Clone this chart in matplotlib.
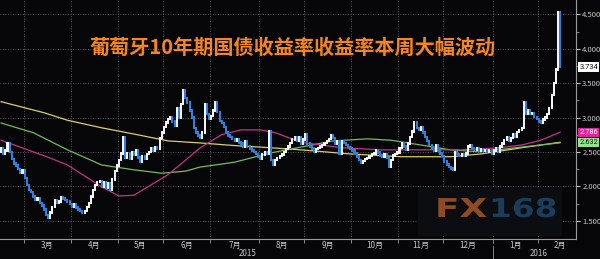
import numpy as np
import pandas as pd
import matplotlib
matplotlib.use('Agg')
import matplotlib.pyplot as plt
import matplotlib.transforms as mtransforms
from matplotlib.patches import Rectangle, PathPatch
from matplotlib.textpath import TextPath
from matplotlib.font_manager import FontProperties

plt.rcParams['font.family'] = ['Noto Sans CJK SC', 'DejaVu Sans']

# daily closing yields (%), one per trading day from 2015-02-13
closes = [
    2.55, 2.48, 2.52, 2.62, 2.50, 2.40, 2.33, 2.30, 2.25, 2.20,
    2.24, 2.12, 2.02, 1.95, 1.92, 1.85, 1.80, 1.83, 1.76, 1.72,
    1.66, 1.58, 1.54, 1.62, 1.70, 1.80, 1.76, 1.78, 1.84, 1.82,
    1.80, 1.78, 1.74, 1.70, 1.74, 1.69, 1.66, 1.64, 1.62, 1.64,
    1.70, 1.76, 1.85, 1.95, 2.02, 2.06, 2.08, 2.00, 2.06, 1.98,
    2.05, 1.95, 2.10, 2.22, 2.30, 2.38, 2.48, 2.72, 2.42, 2.48,
    2.40, 2.50, 2.46, 2.52, 2.42, 2.36, 2.44, 2.40, 2.47, 2.50,
    2.55, 2.52, 2.57, 2.55, 2.70, 2.78, 2.86, 2.93, 2.98, 3.00,
    2.94, 2.88, 3.13, 3.00, 3.20, 3.40, 3.28, 3.22, 3.10, 3.00,
    2.85, 2.78, 2.74, 2.70, 2.78, 3.20, 3.05, 2.98, 3.02, 3.10,
    3.22, 3.08, 2.95, 2.92, 2.86, 2.78, 2.74, 2.72, 2.69, 2.66,
    2.68, 2.64, 2.62, 2.58, 2.66, 2.58, 2.55, 2.52, 2.50, 2.47,
    2.43, 2.40, 2.46, 2.50, 2.48, 2.80, 2.38, 2.32, 2.38, 2.41,
    2.44, 2.46, 2.50, 2.54, 2.58, 2.63, 2.68, 2.71, 2.66, 2.72,
    2.62, 2.68, 2.75, 2.62, 2.58, 2.55, 2.50, 2.54, 2.56, 2.58,
    2.60, 2.63, 2.66, 2.69, 2.74, 2.70, 2.62, 2.66, 2.48, 2.66,
    2.63, 2.60, 2.57, 2.55, 2.52, 2.48, 2.43, 2.38, 2.34, 2.37,
    2.40, 2.41, 2.44, 2.47, 2.48, 2.53, 2.49, 2.45, 2.43, 2.46,
    2.41, 2.28, 2.38, 2.45, 2.47, 2.49, 2.56, 2.62, 2.58, 2.53,
    2.62, 2.72, 2.80, 2.93, 2.85, 2.82, 2.86, 2.78, 2.72, 2.66,
    2.60, 2.55, 2.52, 2.60, 2.52, 2.48, 2.44, 2.36, 2.32, 2.28,
    2.26, 2.24, 2.50, 2.47, 2.45, 2.47, 2.45, 2.48, 2.58, 2.60,
    2.55, 2.53, 2.55, 2.52, 2.54, 2.51, 2.53, 2.50, 2.52, 2.48,
    2.52, 2.55, 2.50, 2.58, 2.62, 2.67, 2.72, 2.66, 2.70, 2.75,
    2.72, 2.79, 2.82, 2.85, 3.22, 3.06, 3.10, 3.05, 3.06, 3.01,
    2.98, 2.94, 2.92, 2.97, 3.00, 3.05, 3.14, 3.33, 3.50, 3.70,
    4.53, 3.734,
]
first_open = 2.50

# moving averages, sampled at trading-day positions
yellow_idx = [0, 20, 31, 47, 62, 78, 93, 110, 126, 140, 163, 187, 210, 224, 243, 261]
yellow_val = [3.23, 3.07, 2.96, 2.85, 2.76, 2.66, 2.63, 2.59, 2.56, 2.53, 2.47, 2.43, 2.43, 2.47, 2.56, 2.64]

green_idx = [0, 15, 31, 47, 62, 75, 86, 93, 109, 125, 140, 155, 171, 182, 196, 210, 224, 243, 261]
green_val = [2.92, 2.78, 2.53, 2.31, 2.24, 2.19, 2.22, 2.28, 2.35, 2.48, 2.57, 2.66, 2.69, 2.67, 2.60, 2.53, 2.50, 2.57, 2.632]

magenta_idx = [0, 23, 31, 47, 55, 62, 78, 93, 103, 112, 121, 128, 140, 159, 177, 201, 215, 233, 243, 252, 261]
magenta_val = [2.67, 2.41, 2.31, 1.99, 1.86, 1.87, 2.17, 2.56, 2.75, 2.82, 2.82, 2.78, 2.64, 2.56, 2.53, 2.53, 2.53, 2.56, 2.60, 2.67, 2.786]

last_labels = [('3.734', 3.734, 'white', 'black'),
               ('2.786', 2.786, '#e0259b', 'white'),
               ('2.632', 2.632, '#8fe68a', '#102010')]

title = '葡萄牙10年期国债收益率收益率本周大幅波动'
month_names = ['3月', '4月', '5月', '6月', '7月', '8月', '9月', '10月', '11月', '12月', '1月', '2月']

bg = '#060608'
W, H = 600, 259
fig = plt.figure(figsize=(W / 100, H / 100), dpi=100, facecolor=bg)
ax = fig.add_axes([0, 1 - 239 / H, 576 / W, 239 / H], facecolor=bg)

closes = np.array(closes)
n = len(closes)
idx = np.arange(n)
opens = np.r_[first_open, closes[:-1]]
pad = 0.018
lo = np.minimum(opens, closes) - pad
hi = np.maximum(opens, closes) + pad
colors = np.where(closes >= opens, '#f4f4f4', '#2f80dc')

# dates for gridlines / labels
all_days = pd.bdate_range('2015-02-13', '2016-02-29')
months = pd.period_range('2015-03', '2016-03', freq='M')
starts = [int(np.searchsorted(all_days, m.start_time)) for m in months[:-1]]
starts.append(len(all_days))

for s in starts[:-1]:
    ax.axvline(s - 0.5, color='#6a6a6a', lw=0.6, ls=(0, (1, 2)), zorder=1)
for v in np.arange(1.5, 4.51, 0.5):
    ax.axhline(v, color='#6a6a6a', lw=0.6, ls=(0, (1, 2)), zorder=1)

ax.plot(yellow_idx, yellow_val, color='#d8cf6a', lw=0.9, zorder=2)
ax.plot(green_idx, green_val, color='#72bc5c', lw=0.9, zorder=2)
ax.plot(magenta_idx, magenta_val, color='#c4358a', lw=0.9, zorder=2)

ax.bar(idx, hi - lo, bottom=lo, width=0.95, color=colors, zorder=3, linewidth=0)

ax.set_xlim(-0.5, -0.5 + 576 / 2.142)
ax.set_ylim(1.234, 4.708)

for side in ['top', 'left']:
    ax.spines[side].set_visible(False)
ax.spines['right'].set_color('#9a9a9a')
ax.spines['bottom'].set_color('#9a9a9a')
ax.spines['right'].set_linewidth(0.8)
ax.spines['bottom'].set_linewidth(0.8)

ax.yaxis.tick_right()
ax.set_yticks(np.arange(1.5, 4.51, 0.5))
ax.set_yticklabels([f'{v:.3f}' for v in np.arange(1.5, 4.51, 0.5)])
ax.set_yticks(np.arange(1.75, 4.5, 0.5), minor=True)
ax.tick_params(axis='y', which='major', colors='#c8c8c8', labelsize=5.5, length=3, width=0.8, pad=1.5)
ax.tick_params(axis='y', which='minor', colors='#9a9a9a', length=2, width=0.6)

ax.set_xticks([s - 0.5 for s in starts[:-1]])
ax.set_xticklabels([])
ax.tick_params(axis='x', colors='#9a9a9a', length=3, width=0.6)

trans = mtransforms.blended_transform_factory(ax.transData, ax.transAxes)
for k, name in enumerate(month_names):
    c = (starts[k] + starts[k + 1]) / 2 - 0.5
    ax.text(c, -0.026, name, transform=trans, ha='center', va='center',
            fontsize=5.8, color='#c8c8c8', clip_on=False)

jan = starts[10]
ax.text(jan / 2, -0.06, '2015', transform=trans, ha='center', va='center',
        fontsize=5.8, color='#c8c8c8', clip_on=False)
ax.text((jan + starts[-1]) / 2, -0.06, '2016', transform=trans, ha='center', va='center',
        fontsize=5.8, color='#c8c8c8', clip_on=False)
ax.plot([jan - 0.5, jan - 0.5], [-0.03, -0.09], transform=trans, color='#9a9a9a',
        lw=0.6, clip_on=False)

# last value tags on the right axis
ytrans = mtransforms.blended_transform_factory(ax.transAxes, ax.transData)
for txt, v, fc, tc in last_labels:
    ax.text(1.006, v, txt, transform=ytrans, ha='left', va='center', fontsize=5.3,
            family='Roboto', color=tc, clip_on=False, zorder=6,
            bbox=dict(boxstyle='square,pad=0.15', fc=fc, ec='none'))

# title
fig.text(293 / W, 1 - 47 / H, title, ha='center', va='center', fontsize=14.5,
         fontweight='bold', color='#f5861f')

# watermark
fig.patches.append(Rectangle((418 / W, 1 - 236 / H), 144 / W, 49 / H,
                             transform=fig.transFigure, fc='#0c0d10', ec='none', zorder=4))
wm_font = FontProperties(family='DejaVu Sans', weight='bold')
for txt, x0, sx, col in [('FX', 435, 1.38, '#8e4a22'), ('168', 489, 1.26, '#1b3d5c')]:
    tp = TextPath((0, 0), txt, size=26, prop=wm_font)
    tr = mtransforms.Affine2D().scale(sx, 1.0).translate(x0, H - 217)
    fig.add_artist(PathPatch(tp, transform=tr, fc=col, ec='none', zorder=5))

fig.savefig('out.png', dpi=100, facecolor=bg)
